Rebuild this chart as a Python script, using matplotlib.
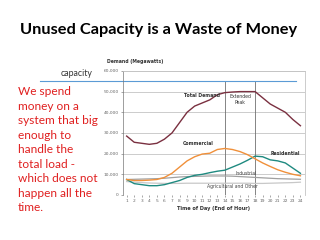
import matplotlib
matplotlib.use("Agg")
import matplotlib.pyplot as plt
import matplotlib.transforms as mtransforms

hours = list(range(1, 25))
total = [28500, 25500, 25000, 24500, 25000, 27000, 30000, 35000, 40000, 43000, 44500, 46000,
         48500, 49500, 49800, 50000, 50000, 50000, 47000, 44000, 42000, 40000, 36500, 33500]
commercial = [7500, 7000, 7000, 7200, 7500, 8500, 10500, 13500, 16500, 18500, 19800, 20200,
              22000, 22500, 22000, 21000, 19500, 17500, 15500, 13800, 12200, 11000, 10000, 9300]
residential = [7500, 5500, 5000, 4500, 4500, 5000, 6000, 7000, 8500, 9500, 10000, 10800,
               11500, 12000, 13500, 15000, 16800, 18800, 18500, 17000, 16500, 15500, 13000, 10500]
industrial = [7500, 7600, 7700, 7800, 7900, 8100, 8400, 8700, 8900, 9000, 9100, 9200,
              9200, 9200, 9100, 8900, 8700, 8500, 8300, 8100, 7900, 7800, 7700, 7600]
agri = [6500, 6200, 6000, 5800, 5700, 5600, 5600, 5600, 5700, 5700, 5700, 5700,
        5700, 5700, 5700, 5700, 5700, 5600, 5600, 5700, 5800, 5900, 6000, 6200]
capacity = 55000
peak_bounds = [14, 18]
yticks = [0, 10000, 20000, 30000, 40000, 50000, 60000]
ytick_labels = ["0", "10,000", "20,000", "30,000", "40,000", "50,000", "60,000"]

fig = plt.figure(figsize=(3.2, 2.4), dpi=100)
fig.patch.set_facecolor("white")
ax = fig.add_axes([0.384, 0.1875, 0.569, 0.517])

for y in yticks[1:]:
    ax.axhline(y, color="#c4c4c4", lw=0.6, zorder=0)

ax.plot(hours, agri, color="#c8c8c8", lw=0.9)
ax.plot(hours, industrial, color="#a0a0a0", lw=0.9)
ax.plot(hours, residential, color="#1f8a80", lw=1.0)
ax.plot(hours, commercial, color="#f0903a", lw=1.0)
ax.plot(hours, total, color="#7a3040", lw=1.0)

for xb in peak_bounds:
    ax.plot([xb, xb], [0, 55000], color="#707070", lw=0.6, zorder=1)

trans = mtransforms.blended_transform_factory(fig.transFigure, ax.transData)
ax.plot([40 / 320, 296 / 320], [capacity, capacity], transform=trans, color="#5b9bd5",
        lw=0.8, clip_on=False)

ax.set_xlim(0.5, 24.6)
ax.set_ylim(0, 60000)
ax.set_xticks(hours)
ax.set_xticklabels([str(h) for h in hours])
ax.set_yticks(yticks)
ax.set_yticklabels(ytick_labels)
ax.tick_params(labelsize=3.2, colors="#666666", length=1.5, width=0.4, pad=1.5)
for s in ["top", "right"]:
    ax.spines[s].set_color("#c4c4c4")
    ax.spines[s].set_linewidth(0.6)
ax.spines["left"].set_color("#777777")
ax.spines["left"].set_linewidth(0.5)
ax.spines["bottom"].set_visible(False)

tk = dict(fontsize=3.3, color="#333333", fontweight="bold", ha="center")
ax.text(11, 47500, "Total Demand", **tk)
ax.text(16, 44000, "Extended\nPeak", fontsize=3.3, color="#333333", ha="center", linespacing=1.2)
ax.text(10.5, 24200, "Commercial", **tk)
ax.text(22, 19500, "Residential", **tk)
ax.text(16.8, 9700, "Industrial", fontsize=3.3, color="#444444", ha="center")
ax.text(15, 3300, "Agricultural and Other", fontsize=3.3, color="#444444", ha="center")
ax.set_xlabel("Time of Day (End of Hour)", fontsize=3.6, fontweight="bold", color="#333333", labelpad=2)
fig.text(107 / 320, 1 - 62 / 240, "Demand (Megawatts)", fontsize=3.3, fontweight="bold",
         color="#333333", va="center")

fig.text(0.495, 1 - 30 / 240, "Unused Capacity is a Waste of Money", fontsize=11.8,
         fontweight="bold", family="Lato", ha="center", va="center", color="black")
fig.text(77 / 320, 1 - 73 / 240, "capacity", fontsize=6.3, family="Lato", ha="center",
         va="center", color="#333333")
fig.text(18 / 320, 1 - 86 / 240,
         "We spend\nmoney on a\nsystem that big\nenough to\nhandle the\ntotal load -\nwhich does not\nhappen all the\ntime.",
         fontsize=8.6, family="Lato", color="#e02020", ha="left", va="top", linespacing=1.39)

fig.savefig("out.png", dpi=100, facecolor="white")
